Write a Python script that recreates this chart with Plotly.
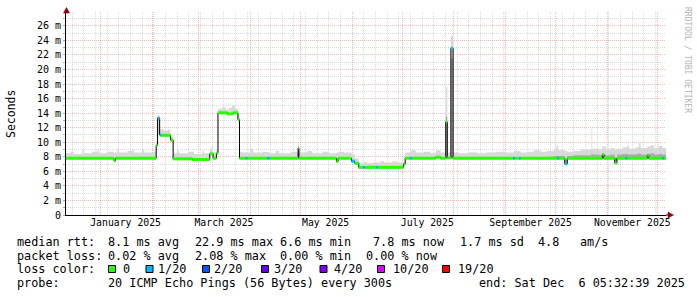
import plotly.graph_objects as go

# ---------------- data ----------------
start_time = "2024-12-11 05:32:39"
end_time = "2025-12-06 05:32:39"

# median RTT segments (segment i lasts from seg_start[i] to seg_start[i+1])
seg_start = [
    "2024-12-11 05:32", "2025-01-09 00:00", "2025-01-10 00:00", "2025-02-03 08:00",
    "2025-02-04 04:00", "2025-02-05 10:00", "2025-02-06 08:00", "2025-02-12 00:00",
    "2025-02-13 12:00", "2025-02-25 00:00", "2025-03-07 12:00", "2025-03-09 12:00",
    "2025-03-11 12:00", "2025-03-12 10:00", "2025-03-18 00:00", "2025-03-21 12:00",
    "2025-03-24 09:00", "2025-03-25 08:00", "2025-03-29 00:00", "2025-03-30 00:00",
    "2025-04-11 00:00", "2025-04-12 12:00", "2025-04-29 12:00", "2025-04-30 00:00",
    "2025-05-22 12:00", "2025-05-23 12:00", "2025-05-31 12:00", "2025-06-02 12:00",
    "2025-06-04 21:00", "2025-06-07 12:00", "2025-06-08 12:00", "2025-06-15 06:00",
    "2025-06-16 12:00", "2025-07-01 18:00", "2025-07-02 18:00", "2025-07-05 12:00",
    "2025-07-06 18:00", "2025-07-21 00:00", "2025-07-24 00:00", "2025-07-27 02:00",
    "2025-07-28 00:00", "2025-07-30 04:00", "2025-07-31 12:00", "2025-09-05 12:00",
    "2025-09-06 12:00", "2025-09-09 00:00", "2025-09-10 00:00", "2025-10-02 00:00",
    "2025-10-03 00:00", "2025-10-06 12:00", "2025-10-08 00:00", "2025-10-29 00:00",
    "2025-10-30 00:00", "2025-11-05 12:00", "2025-11-06 18:00", "2025-11-12 00:00",
    "2025-11-13 00:00", "2025-11-25 00:00", "2025-11-26 00:00", "2025-12-04 00:00",
    "2025-12-05 00:00",
]
seg_rtt = [
    7.8, 7.45, 7.8, 9.6,
    13.3, 11.0, 10.95, 10.3,
    7.72, 7.62, 8.4, 7.8,
    8.5, 14.05, 13.9, 14.05,
    13.1, 7.8, 7.8, 7.8,
    7.8, 7.8, 9.2, 7.8,
    7.35, 7.8, 7.4, 7.1,
    6.55, 6.55, 6.55, 6.55,
    6.55, 7.0, 7.8, 7.8,
    7.8, 7.95, 7.8, 12.8,
    7.85, 22.9, 7.8, 7.8,
    7.8, 7.8, 7.8, 7.8,
    7.8, 7.05, 7.8, 8.3,
    7.8, 7.15, 7.8, 7.8,
    7.8, 8.2, 7.8, 7.8,
    7.8,
]
seg_loss = [
    0, 0, 0, 0,
    1, 1, 0, 0,
    0, 0, 0, 0,
    0, 0, 0, 0,
    0, 0, 1, 0,
    1, 0, 0, 0,
    0, 0, 1, 0,
    0, 1, 0, 1,
    0, 0, 0, 1,
    0, 0, 0, 0,
    0, 1, 0, 1,
    0, 1, 0, 1,
    0, 1, 0, 0,
    0, 0, 0, 1,
    0, 0, 0, 1,
    0,
]

# smoke (ping spread) steps: low edge, dark-core top, light top (ms)
smoke_time = [
    "2024-12-11 05:32", "2024-12-14", "2024-12-16", "2024-12-21", "2024-12-22",
    "2024-12-27", "2024-12-30", "2024-12-31", "2025-01-05", "2025-01-09",
    "2025-01-10", "2025-01-11", "2025-01-12", "2025-01-17", "2025-01-20",
    "2025-01-21", "2025-01-26", "2025-01-27", "2025-02-01", "2025-02-03 08:00",
    "2025-02-04 04:00", "2025-02-05 10:00", "2025-02-08", "2025-02-10", "2025-02-12",
    "2025-02-13 12:00", "2025-02-16", "2025-02-17", "2025-02-23", "2025-02-26",
    "2025-03-03", "2025-03-04", "2025-03-07 12:00", "2025-03-08 12:00", "2025-03-09 12:00",
    "2025-03-11 12:00", "2025-03-12 10:00", "2025-03-15", "2025-03-17", "2025-03-19",
    "2025-03-21", "2025-03-22 12:00", "2025-03-24 09:00", "2025-03-25 08:00", "2025-03-27",
    "2025-04-01", "2025-04-02 12:00", "2025-04-08", "2025-04-12", "2025-04-16",
    "2025-04-18", "2025-04-25", "2025-04-29 12:00", "2025-04-30", "2025-05-05",
    "2025-05-08", "2025-05-14", "2025-05-18", "2025-05-22 12:00", "2025-05-23 12:00",
    "2025-05-27", "2025-05-31 12:00", "2025-06-02 12:00", "2025-06-04 21:00", "2025-06-08",
    "2025-06-10", "2025-06-14", "2025-06-18", "2025-06-20", "2025-06-25",
    "2025-06-28", "2025-07-01 18:00", "2025-07-02 18:00", "2025-07-06", "2025-07-09",
    "2025-07-14", "2025-07-18", "2025-07-21", "2025-07-24", "2025-07-27 02:00",
    "2025-07-28", "2025-07-30 04:00", "2025-07-31 12:00", "2025-08-04", "2025-08-10",
    "2025-08-15", "2025-08-20", "2025-08-26", "2025-09-01", "2025-09-06",
    "2025-09-10", "2025-09-14", "2025-09-18", "2025-09-22", "2025-09-26",
    "2025-09-30", "2025-10-01 12:00", "2025-10-02 12:00", "2025-10-06 12:00", "2025-10-08",
    "2025-10-12", "2025-10-16", "2025-10-22 12:00", "2025-10-23", "2025-10-27",
    "2025-10-29", "2025-10-31", "2025-11-03", "2025-11-05 12:00", "2025-11-07",
    "2025-11-10", "2025-11-13", "2025-11-14", "2025-11-18", "2025-11-20",
    "2025-11-21", "2025-11-25", "2025-11-27", "2025-11-29", "2025-12-02",
    "2025-12-04",
]
smoke_lo = [
    7.65, 7.65, 7.65, 7.65, 7.65,
    7.65, 7.65, 7.65, 7.65, 7.3,
    7.65, 7.65, 7.65, 7.65, 7.65,
    7.65, 7.65, 7.65, 7.65, 9.3,
    11.0, 10.8, 10.8, 10.8, 10.1,
    7.55, 7.55, 7.55, 7.5, 7.5,
    7.5, 7.5, 8.2, 8.2, 7.65,
    8.3, 13.8, 13.8, 13.7, 13.7,
    13.8, 13.8, 12.9, 7.65, 7.65,
    7.65, 7.65, 7.65, 7.65, 7.65,
    7.65, 7.65, 7.7, 7.65, 7.65,
    7.65, 7.65, 7.65, 7.2, 7.65,
    7.65, 7.3, 7.0, 6.4, 6.4,
    6.4, 6.4, 6.4, 6.4, 6.4,
    6.4, 6.8, 7.65, 7.65, 7.65,
    7.65, 7.65, 7.7, 7.65, 7.7,
    7.65, 7.7, 7.65, 7.65, 7.65,
    7.65, 7.65, 7.65, 7.65, 7.65,
    7.65, 7.65, 7.65, 7.65, 7.65,
    7.65, 7.65, 7.65, 6.9, 7.65,
    7.65, 7.65, 7.65, 7.65, 7.65,
    7.65, 7.65, 7.65, 7.0, 7.65,
    7.65, 7.65, 7.65, 7.65, 7.65,
    7.65, 7.65, 7.65, 7.65, 7.65,
    7.65,
]
smoke_mid = [
    7.65, 7.65, 7.65, 7.65, 7.65,
    7.65, 7.65, 7.65, 7.65, 7.3,
    7.65, 7.65, 7.65, 7.65, 7.65,
    7.65, 7.65, 7.65, 7.65, 9.3,
    11.0, 10.8, 10.8, 10.8, 10.1,
    7.55, 7.55, 7.55, 7.5, 7.5,
    7.5, 7.5, 8.2, 8.2, 7.65,
    8.3, 13.8, 13.8, 13.7, 13.7,
    13.8, 13.8, 12.9, 7.65, 7.65,
    7.65, 7.65, 7.65, 7.65, 7.65,
    7.65, 7.65, 8.6, 7.65, 7.65,
    7.65, 7.65, 7.65, 7.2, 7.65,
    7.65, 7.3, 7.0, 6.4, 6.4,
    6.4, 6.4, 6.4, 6.4, 6.4,
    6.4, 6.8, 7.65, 7.65, 7.65,
    7.65, 7.65, 7.7, 7.65, 13.5,
    7.65, 21.5, 7.65, 7.65, 7.65,
    7.65, 7.65, 7.65, 7.65, 7.65,
    7.65, 7.65, 7.9, 7.9, 8.0,
    8.1, 8.1, 8.1, 7.6, 8.1,
    8.2, 8.2, 8.5, 8.3, 8.2,
    8.4, 8.2, 8.3, 7.9, 8.3,
    8.4, 8.4, 8.3, 8.4, 8.5,
    8.3, 8.4, 8.5, 8.3, 8.4,
    8.3,
]
smoke_hi = [
    8.5, 8.7, 8.4, 9.0, 8.5,
    8.7, 9.0, 8.5, 8.7, 8.6,
    8.6, 9.1, 8.6, 8.8, 9.0,
    8.6, 9.0, 8.6, 8.7, 10.2,
    13.7, 11.8, 11.6, 11.7, 10.8,
    8.5, 8.9, 8.5, 8.7, 8.4,
    8.8, 8.5, 9.0, 9.4, 8.6,
    8.9, 14.6, 14.8, 14.5, 14.7,
    15.1, 14.6, 13.8, 8.7, 8.6,
    9.1, 8.6, 8.7, 8.5, 8.8,
    8.5, 8.7, 10.0, 8.6, 8.8,
    8.5, 8.7, 8.5, 8.6, 8.7,
    8.6, 8.4, 7.8, 7.1, 7.3,
    7.1, 7.2, 7.4, 7.2, 7.4,
    7.2, 7.4, 8.6, 8.9, 8.6,
    8.7, 8.5, 8.9, 8.6, 17.6,
    8.6, 24.6, 8.6, 8.5, 8.6,
    8.5, 8.6, 8.7, 8.6, 8.8,
    8.6, 8.7, 8.9, 8.7, 8.8,
    9.0, 9.6, 8.9, 8.8, 8.7,
    8.8, 9.0, 11.9, 9.1, 9.0,
    9.4, 9.0, 9.2, 9.0, 9.1,
    9.3, 9.6, 9.1, 9.3, 9.9,
    9.2, 9.4, 9.6, 9.2, 9.5,
    9.2,
]

y_tick_vals = [0, 2, 4, 6, 8, 10, 12, 14, 16, 18, 20, 22, 24, 26]
y_tick_text = ["0", "2 m", "4 m", "6 m", "8 m", "10 m", "12 m", "14 m",
               "16 m", "18 m", "20 m", "22 m", "24 m", "26 m"]
y_minor_vals = [1, 3, 5, 7, 9, 11, 13, 15, 17, 19, 21, 23, 25, 27]

month_label_dates = ["2025-01-16", "2025-03-16", "2025-05-16",
                     "2025-07-16", "2025-09-16", "2025-11-16"]
month_label_text = ["January 2025", "March 2025", "May 2025",
                    "July 2025", "September 2025", "November 2025"]

loss_levels = [0, 1, 2, 3, 4, 10, 19]
loss_colors = ["#26ff00", "#00b8ff", "#0059ff", "#5e00ff", "#7e00ff", "#dd00ff", "#ff0000"]
loss_names = ["0", "1/20", "2/20", "3/20", "4/20", "10/20", "19/20"]

rtt_stats = ["8.1 ms avg", "22.9 ms max", "6.6 ms min", "7.8 ms now", "1.7 ms sd", "4.8", "am/s"]
loss_stats = ["0.02 % avg", "2.08 % max", "0.00 % min", "0.00 % now"]
probe_text = "20 ICMP Echo Pings (56 Bytes) every 300s"
end_text = "end: Sat Dec  6 05:32:39 2025"

# ---------------- layout helpers ----------------
L, R, T, B = 66, 31, 12, 82
W, H = 697, 297
PW, PH = W - L - R, H - T - B


def px(x):
    return (x - L) / PW


def py(y):
    return (H - B - y) / PH


def nb(s):
    return s.replace(" ", "\u00a0")


MONO = "DejaVu Sans Mono"

fig = go.Figure()

sx = smoke_time + [end_time]


def ext(a):
    return list(a) + [a[-1]]


common = dict(mode="lines", hoverinfo="skip", showlegend=False)
fig.add_trace(go.Scatter(x=sx, y=ext(smoke_lo), line=dict(width=0, shape="hv"), **common))
fig.add_trace(go.Scatter(x=sx, y=ext(smoke_hi), line=dict(width=0, shape="hv"),
                         fill="tonexty", fillcolor="#d8d8d8", **common))
fig.add_trace(go.Scatter(x=sx, y=ext(smoke_lo), line=dict(width=0, shape="hv"), **common))
fig.add_trace(go.Scatter(x=sx, y=ext(smoke_mid), line=dict(width=0, shape="hv"),
                         fill="tonexty", fillcolor="#ababab", **common))

# median as black step line
fig.add_trace(go.Scatter(x=seg_start + [end_time], y=ext(seg_rtt),
                         line=dict(color="black", width=1, shape="hv"), **common))

# loss-coloured median segments
for lvl, col in zip(loss_levels, loss_colors):
    xs, ys = [], []
    for i, (t, v, l) in enumerate(zip(seg_start, seg_rtt, seg_loss)):
        if l == lvl:
            t1 = seg_start[i + 1] if i + 1 < len(seg_start) else end_time
            xs += [t, t1, None]
            ys += [v, v, None]
    if xs:
        fig.add_trace(go.Scatter(x=xs, y=ys, line=dict(color=col, width=3), **common))

# carrier trace for the label axis
fig.add_trace(go.Scatter(x=[start_time, end_time], y=[None, None], xaxis="x2", **common))

red_grid = "rgba(255,0,0,0.28)"
gray_grid = "rgba(140,140,140,0.32)"
dash = "1px,1px"

fig.update_layout(
    width=W, height=H,
    margin=dict(l=L, r=R, t=T, b=B, pad=0),
    paper_bgcolor="white", plot_bgcolor="white",
    showlegend=False,
    font=dict(family=MONO, size=10, color="black"),
    xaxis=dict(
        type="date", range=[start_time, end_time],
        tickmode="linear", tick0="2025-01-01", dtick="M1",
        showticklabels=False, ticks="",
        showgrid=True, gridcolor=red_grid, griddash=dash, gridwidth=1,
        minor=dict(tickmode="linear", tick0="2024-12-15", dtick=7 * 86400000,
                   showgrid=True, gridcolor=gray_grid, griddash=dash, gridwidth=1, ticks=""),
        showline=True, linecolor="black", linewidth=1, zeroline=False,
    ),
    xaxis2=dict(
        type="date", range=[start_time, end_time], overlaying="x", anchor="y", side="bottom",
        tickmode="array", tickvals=month_label_dates, ticktext=month_label_text,
        showgrid=False, ticks="", zeroline=False, showline=False,
        tickfont=dict(family=MONO, size=9.8, color="black"),
    ),
    yaxis=dict(
        range=[0, 27.9],
        tickmode="array", tickvals=y_tick_vals, ticktext=[nb(t) for t in y_tick_text],
        showgrid=True, gridcolor=red_grid, griddash=dash, gridwidth=1,
        minor=dict(tickmode="array", tickvals=y_minor_vals, showgrid=True,
                   gridcolor=gray_grid, griddash=dash, gridwidth=1,
                   ticks="outside", ticklen=2, tickcolor="#aaaaaa"),
        ticks="outside", ticklen=2, tickcolor="#aaaaaa",
        showline=True, linecolor="black", linewidth=1, zeroline=False,
        tickfont=dict(family=MONO, size=10, color="black"),
    ),
)

ann = []


def text_at(xp, yp, s, size=11.8, color="black", anchor="left", angle=0):
    ann.append(dict(x=px(xp), y=py(yp), xref="paper", yref="paper", text=nb(s),
                    showarrow=False, xanchor=anchor, yanchor="middle", borderpad=0,
                    textangle=angle, font=dict(family=MONO, size=size, color=color)))


# legend block
row_y = [242.0, 255.5, 269.0, 282.5]
text_at(16, row_y[0], "median rtt:")
for xp, s in zip([107, 194, 279.3, 372.3, 459, 536.7, 579.3], rtt_stats):
    text_at(xp, row_y[0], s)
text_at(16, row_y[1], "packet loss:")
for xp, s in zip([107, 194, 279.3, 365], loss_stats):
    text_at(xp, row_y[1], s)
text_at(16, row_y[2], "loss color:")
box_x = [108.5, 146.0, 202.5, 261.5, 320.0, 377.5, 442.5]
label_x = [121.7, 156.7, 213.3, 272.7, 333.0, 391.7, 456.7]
shapes = []
for bx, lx, col, name in zip(box_x, label_x, loss_colors, loss_names):
    shapes.append(dict(type="rect", xref="paper", yref="paper",
                       x0=px(bx), x1=px(bx + 7), y0=py(272.5), y1=py(265.5),
                       fillcolor=col, line=dict(color="black", width=1)))
    text_at(lx, row_y[2], name)
text_at(16, row_y[3], "probe:")
text_at(107, row_y[3], probe_text)
text_at(478.3, row_y[3], end_text)

# axis title and watermark
text_at(11, 114, "Seconds", size=11.5, anchor="center", angle=-90)
text_at(688, 60, "RRDTOOL / TOBI OETIKER", size=8, color="#b4b4b4", anchor="center", angle=90)

# axis arrows
arrow = "#8b0000"
shapes.append(dict(type="path", xref="paper", yref="paper",
                   path=f"M {px(63.5)} {py(13)} L {px(69.5)} {py(13)} L {px(66.5)} {py(7.5)} Z",
                   fillcolor=arrow, line=dict(color=arrow, width=0.5)))
shapes.append(dict(type="line", xref="paper", yref="paper",
                   x0=px(666), x1=px(668.5), y0=py(215), y1=py(215),
                   line=dict(color="black", width=1)))
shapes.append(dict(type="path", xref="paper", yref="paper",
                   path=f"M {px(668)} {py(212)} L {px(668)} {py(218)} L {px(673.5)} {py(215)} Z",
                   fillcolor=arrow, line=dict(color=arrow, width=0.5)))

fig.update_layout(annotations=ann, shapes=shapes)

fig.write_html("out.html")
